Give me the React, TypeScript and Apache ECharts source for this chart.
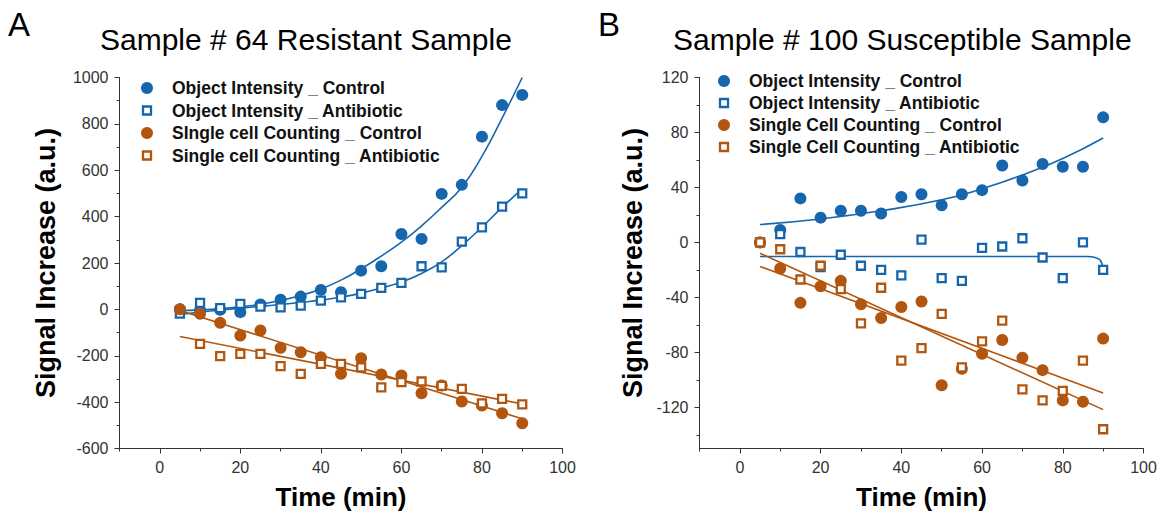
import React, { useEffect, useRef } from 'react';
import * as echarts from 'echarts';

// ---------- shared ----------
const BLUE = '#1666ae';
const ORANGE = '#b2560f';
const FONT = '"Liberation Sans", Arial, sans-serif';

const times = [5, 10, 15, 20, 25, 30, 35, 40, 45, 50, 55, 60, 65, 70, 75, 80, 85, 90];
const timesFrom10 = [10, 15, 20, 25, 30, 35, 40, 45, 50, 55, 60, 65, 70, 75, 80, 85, 90];

const legendLabelsA = [
  'Object Intensity _ Control',
  'Object Intensity _ Antibiotic',
  'SIngle cell Counting _ Control',
  'Single cell Counting _ Antibiotic',
];
const legendLabelsB = [
  'Object Intensity _ Control',
  'Object Intensity _ Antibiotic',
  'Single Cell Counting _ Control',
  'Single Cell Counting _ Antibiotic',
];

const xMajorTicks = [0, 20, 40, 60, 80, 100];
const xMinorTicks = [-10, 10, 30, 50, 70, 90];
const yMajorTicksB = [-120, -80, -40, 0, 40, 80, 120];
const yMinorTicksB = [-140, -100, -60, -20, 20, 60, 100];

// ---------- Panel A: Sample # 64 Resistant ----------
const oiCtrlA = [0, -5, -2, -12, 21, 42, 55, 84, 74, 167, 186, 325, 304, 498, 537, 745, 881, 925];
const oiAbxA = [-18, 28, 5, 24, 12, 9, 16, 38, 52, 67, 93, 114, 186, 181, 292, 354, 443, 500];
const scCtrlA = [0, -19, -58, -113, -91, -166, -185, -206, -278, -211, -281, -285, -362, -328, -397, -415, -448, -491];
const scAbxA = [-149, -202, -192, -192, -245, -278, -235, -235, -250, -336, -314, -311, -330, -343, -405, -386, -410];

const oiCtrlFitA = [-5, -2, 3, 11, 22, 38, 60, 88, 126, 175, 230, 290, 360, 440, 527, 660, 825, 1000];
const oiAbxFitA = [-22, -12, -3, 5, 13, 21, 30, 40, 53, 70, 92, 118, 155, 205, 275, 355, 440, 520];
const fitEndsT = [5, 90];
const scCtrlFitA = [-5, -472];
const scAbxFitA = [-117, -408];

// ---------- Panel B: Sample # 100 Susceptible ----------
const oiCtrlB = [0, 9, 32, 18, 23, 23, 21, 33, 35, 27, 35, 38, 56, 45, 57, 55, 55, 91];
const oiAbxB = [0, 6, -7, -18, -9, -17, -20, -24, 2, -26, -28, -4, -3, 3, -11, -26, 0, -20];
const scCtrlB = [0, -19, -44, -32, -28, -45, -55, -47, -43, -104, -92, -81, -71, -84, -93, -115, -116, -70];
const scAbxB = [0, -5, -27, -17, -34, -59, -33, -86, -77, -52, -91, -72, -57, -107, -115, -108, -86, -136];

const oiCtrlFitTB = [5, 20, 35, 50, 60, 70, 80, 90];
const oiCtrlFitB = [13, 17, 23, 31, 39, 49, 61, 76];
const oiAbxFitTB = [5, 30, 60, 86, 88, 89.3, 90];
const oiAbxFitB = [-10.3, -10.3, -10.3, -10.3, -11, -13, -19.5];
const scCtrlFitB = [-17.5, -109.6];
const scAbxFitB = [-7.9, -121.7];

const pairs = (xs: number[], ys: number[]) => xs.map((x, i) => [x, ys[i]]);

const axisColor = '#333';

function xAxes(g: number) {
  return [
    {
      gridIndex: g, type: 'value', min: -10, max: 100, position: 'bottom',
      axisLine: { onZero: false, lineStyle: { color: axisColor, width: 1 } },
      axisTick: { customValues: xMajorTicks, length: 5, lineStyle: { color: axisColor } },
      axisLabel: { customValues: xMajorTicks, fontSize: 16, color: '#333', margin: 11, fontFamily: FONT },
      splitLine: { show: false },
      name: 'Time (min)', nameLocation: 'middle', nameGap: 35,
      nameTextStyle: { fontSize: 26, fontWeight: 'bold', color: '#000', fontFamily: FONT },
    },
    {
      gridIndex: g, type: 'value', min: -10, max: 100, position: 'bottom', offset: 0,
      axisLine: { show: false, onZero: false },
      axisTick: { customValues: xMinorTicks, length: 3, lineStyle: { color: axisColor } },
      axisLabel: { show: false },
      splitLine: { show: false },
    },
  ];
}

function scatter(name: string, xi: number, yi: number, data: number[][], color: string, hollow: boolean) {
  return {
    name, type: 'scatter', xAxisIndex: xi, yAxisIndex: yi, data,
    symbol: hollow ? 'rect' : 'circle',
    symbolSize: hollow ? 8 : 12,
    itemStyle: hollow
      ? { color: '#fff', borderColor: color, borderWidth: 2.3, opacity: 1 }
      : { color, opacity: 1 },
    z: 3,
  };
}
function fit(xi: number, yi: number, data: number[][], color: string, smooth: boolean | number) {
  return {
    type: 'line', xAxisIndex: xi, yAxisIndex: yi, data, showSymbol: false, symbol: 'none',
    smooth, lineStyle: { color, width: 1.6 }, z: 2, silent: true,
  };
}

function legendGraphics(mx: number, tx: number, y0: number, gap: number, labels: string[]) {
  const kinds = [
    { color: BLUE, hollow: false },
    { color: BLUE, hollow: true },
    { color: ORANGE, hollow: false },
    { color: ORANGE, hollow: true },
  ];
  const out: any[] = [];
  kinds.forEach((k, i) => {
    const cy = y0 + i * gap;
    if (k.hollow) {
      out.push({ type: 'rect', shape: { x: mx - 4, y: cy - 4, width: 8, height: 8 }, style: { fill: '#fff', stroke: k.color, lineWidth: 2.3 } });
    } else {
      out.push({ type: 'circle', shape: { cx: mx, cy, r: 6 }, style: { fill: k.color } });
    }
    out.push({ type: 'text', x: tx, y: cy, style: { text: labels[i], font: `bold 17.5px ${FONT}`, fill: '#111', align: 'left', verticalAlign: 'middle' } });
  });
  return out;
}

export default function App() {
  const ref = useRef<HTMLDivElement>(null);
  useEffect(() => {
    if (!ref.current) return;
    const chart = echarts.init(ref.current, undefined, { renderer: 'svg' });
    const option: any = {
      animation: false,
      backgroundColor: '#fff',
      grid: [
        { left: 119.5, top: 77.5, width: 443, height: 371 },
        { left: 699.5, top: 77.5, width: 444, height: 371 },
      ],
      xAxis: [...xAxes(0), ...xAxes(1)],
      yAxis: [
        {
          gridIndex: 0, type: 'value', min: -600, max: 1000, interval: 200, position: 'left',
          axisLine: { show: true, onZero: false, lineStyle: { color: axisColor } },
          axisTick: { show: true, length: 5, lineStyle: { color: axisColor } },
          minorTick: { show: true, splitNumber: 2, length: 3, lineStyle: { color: axisColor } },
          axisLabel: { fontSize: 16, color: '#333', margin: 11, fontFamily: FONT, formatter: (v: number) => String(v) },
          splitLine: { show: false },
          name: 'Signal Increase (a.u.)', nameLocation: 'middle', nameGap: 60,
          nameTextStyle: { fontSize: 27, fontWeight: 'bold', color: '#000', fontFamily: FONT },
        },
        {
          gridIndex: 1, type: 'value', min: -150, max: 120, position: 'left',
          axisLine: { show: true, onZero: false, lineStyle: { color: axisColor } },
          axisTick: { show: true, customValues: yMajorTicksB, length: 5, lineStyle: { color: axisColor } },
          axisLabel: { customValues: yMajorTicksB, fontSize: 16, color: '#333', margin: 11, fontFamily: FONT, formatter: (v: number) => String(v) },
          splitLine: { show: false },
          name: 'Signal Increase (a.u.)', nameLocation: 'middle', nameGap: 53,
          nameTextStyle: { fontSize: 27, fontWeight: 'bold', color: '#000', fontFamily: FONT },
        },
        {
          gridIndex: 1, type: 'value', min: -150, max: 120, position: 'left', offset: 0,
          axisLine: { show: false, onZero: false },
          axisTick: { show: true, customValues: yMinorTicksB, length: 3, lineStyle: { color: axisColor } },
          axisLabel: { show: false },
          splitLine: { show: false },
        },
      ],
      series: [
        // Panel A fits
        fit(0, 0, pairs(times, oiCtrlFitA), BLUE, true),
        fit(0, 0, pairs(times, oiAbxFitA), BLUE, true),
        fit(0, 0, pairs(fitEndsT, scCtrlFitA), ORANGE, false),
        fit(0, 0, pairs(fitEndsT, scAbxFitA), ORANGE, false),
        // Panel A points
        scatter(legendLabelsA[0], 0, 0, pairs(times, oiCtrlA), BLUE, false),
        scatter(legendLabelsA[1], 0, 0, pairs(times, oiAbxA), BLUE, true),
        scatter(legendLabelsA[2], 0, 0, pairs(times, scCtrlA), ORANGE, false),
        scatter(legendLabelsA[3], 0, 0, pairs(timesFrom10, scAbxA), ORANGE, true),
        // Panel B fits
        fit(2, 1, pairs(oiCtrlFitTB, oiCtrlFitB), BLUE, true),
        fit(2, 1, pairs(oiAbxFitTB, oiAbxFitB), BLUE, 0.4),
        fit(2, 1, pairs(fitEndsT, scCtrlFitB), ORANGE, false),
        fit(2, 1, pairs(fitEndsT, scAbxFitB), ORANGE, false),
        // Panel B points
        scatter(legendLabelsB[0], 2, 1, pairs(times, oiCtrlB), BLUE, false),
        scatter(legendLabelsB[1], 2, 1, pairs(times, oiAbxB), BLUE, true),
        scatter(legendLabelsB[2], 2, 1, pairs(times, scCtrlB), ORANGE, false),
        scatter(legendLabelsB[3], 2, 1, pairs(times, scAbxB), ORANGE, true),
      ],
      graphic: [
        { type: 'text', x: 8, y: 24, style: { text: 'A', font: `33px ${FONT}`, fill: '#000', verticalAlign: 'middle' } },
        { type: 'text', x: 598, y: 24, style: { text: 'B', font: `33px ${FONT}`, fill: '#000', verticalAlign: 'middle' } },
        { type: 'text', x: 100, y: 39, style: { text: 'Sample # 64 Resistant Sample', font: `30px ${FONT}`, fill: '#000', verticalAlign: 'middle' } },
        { type: 'text', x: 673, y: 39, style: { text: 'Sample # 100 Susceptible Sample', font: `30px ${FONT}`, fill: '#000', verticalAlign: 'middle' } },
        ...legendGraphics(147, 172, 88, 22.5, legendLabelsA),
        ...legendGraphics(724, 749, 81, 22, legendLabelsB),
      ],
    };
    chart.setOption(option);
    return () => chart.dispose();
  }, []);
  return <div ref={ref} style={{ position: 'fixed', left: 0, top: 0, width: 1162, height: 521 }} />;
}
